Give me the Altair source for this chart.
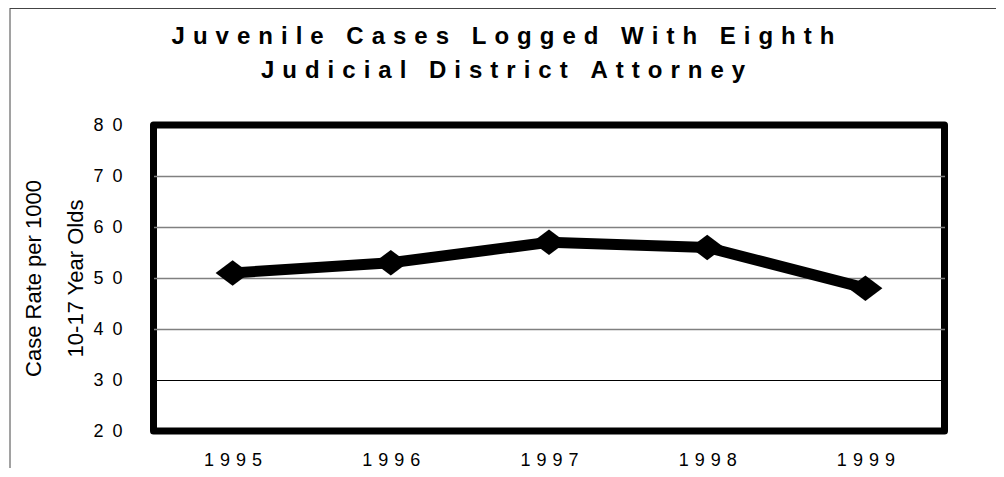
import altair as alt
import pandas as pd

# ---- data ----
years = ["1995", "1996", "1997", "1998", "1999"]
rates = [51, 53, 57, 56, 48]
y_ticks = [20, 30, 40, 50, 60, 70, 80]
title_lines = ["Juvenile Cases Logged With Eighth", "Judicial District Attorney"]
y_title_lines = ["Case Rate per 1000", "10-17 Year Olds"]

EN = "\u2002"      # en space
THREE = "\u2004"   # three-per-em space
NB = "\u00a0"


def spaced(s, sep):
    return sep.join(NB if c == " " else c for c in s)


df = pd.DataFrame({"year": years, "rate": rates})
FONT = "Arial, Liberation Sans, sans-serif"

W, H = 791, 306
PADL, PADT = 145.5, 117
SVG_W, SVG_H = 988, 460

x_enc = alt.X(
    "year:N",
    sort=years,
    scale=alt.Scale(type="point", padding=0.5),
    axis=alt.Axis(
        title=None,
        domain=False,
        ticks=False,
        tickSize=0,
        grid=False,
        labelAngle=0,
        labelFont=FONT,
        labelFontSize=18,
        labelColor="black",
        labelPadding=20,
        labelExpr="join(split(datum.label, ''), '" + THREE + "')",
    ),
)
y_enc = alt.Y(
    "rate:Q",
    scale=alt.Scale(domain=[20, 80], nice=False, zero=False),
    axis=alt.Axis(
        values=y_ticks,
        title=y_title_lines,
        titleFont=FONT,
        titleFontSize=22,
        titleFontWeight="normal",
        titleColor="black",
        titleAngle=270,
        titleX=-120.5,
        titleY=H / 2,
        titleAlign="center",
        titleBaseline="middle",
        titleLineHeight=42,
        domain=False,
        ticks=False,
        tickSize=0,
        grid=True,
        gridColor=alt.condition("datum.value == 30", alt.value("black"), alt.value("#808080")),
        gridWidth=alt.condition("datum.value == 30", alt.value(1), alt.value(1.6)),
        gridOpacity=alt.condition("datum.value == 20 || datum.value == 80", alt.value(0), alt.value(1)),
        labelFont=FONT,
        labelFontSize=18,
        labelColor="black",
        labelPadding=31.5,
        labelExpr="join(split(datum.label, ''), '" + EN + "')",
    ),
)

frame_df = pd.DataFrame({"k": [0]})
frame_left = alt.Chart(frame_df).mark_rule(color="#444444", strokeWidth=1).encode(
    x=alt.value(-143.5), y=alt.value(-PADT), y2=alt.value(SVG_H - PADT)
)
frame_top = alt.Chart(frame_df).mark_rule(color="#444444", strokeWidth=1).encode(
    y=alt.value(-PADT + 0.5), x=alt.value(-143.5), x2=alt.value(SVG_W - PADL)
)

line = alt.Chart(df).mark_line(color="black", strokeWidth=11).encode(x=x_enc, y=y_enc)
points = alt.Chart(df).mark_point(
    shape="M-1,0L0,-0.75L1,0L0,0.75Z", filled=True, color="black", opacity=1, size=1156
).encode(x=x_enc, y=y_enc)

chart = (
    alt.layer(frame_left, frame_top, line, points)
    .properties(
        width=W,
        height=H,
        padding={"left": PADL, "top": PADT, "right": SVG_W - PADL - W, "bottom": SVG_H - PADT - H},
        autosize=alt.AutoSizeParams(type="none"),
        title=alt.Title(
            text=[spaced(l, THREE) for l in title_lines],
            font=FONT,
            fontSize=24,
            fontWeight="bold",
            color="black",
            anchor="middle",
            frame="group",
            dx=-46,
            dy=99.7,
            offset=0,
            lineHeight=34,
            baseline="bottom",
        ),
    )
    .configure(background="white")
    .configure_view(stroke="black", strokeWidth=7, strokeJoin="round")
)

chart.save("out.html", embed_options={"renderer": "svg", "actions": False})
